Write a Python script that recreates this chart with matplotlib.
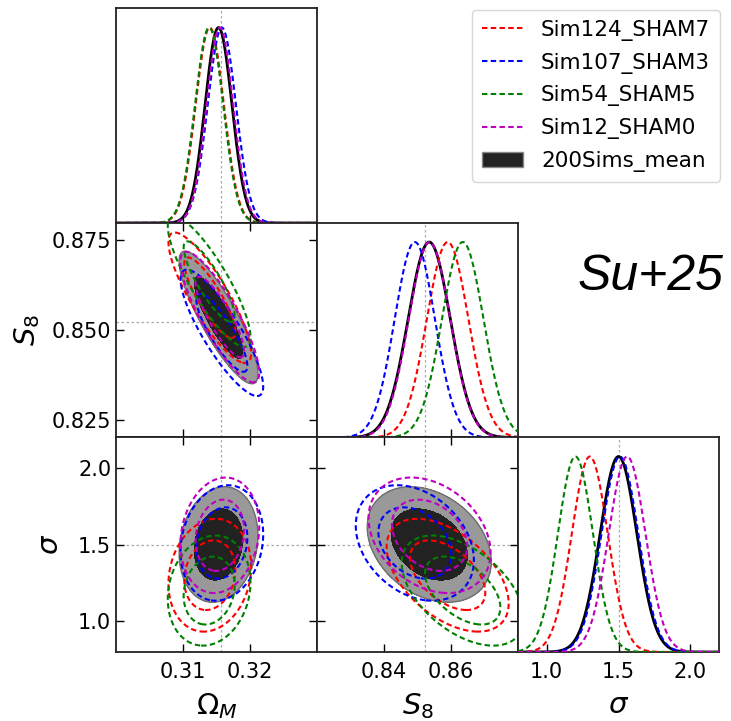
import numpy as np
import matplotlib
matplotlib.use("Agg")
import matplotlib.pyplot as plt
from matplotlib.lines import Line2D
from matplotlib.patches import Patch

# ---------------- data ----------------
param_labels = [r"$\Omega_M$", r"$S_8$", r"$\sigma$"]
param_ranges = [(0.30, 0.33), (0.82, 0.88), (0.80, 2.20)]
x_ticks = [[0.31, 0.32], [0.84, 0.86], [1.0, 1.5, 2.0]]
x_ticklabels = [["0.31", "0.32"], ["0.84", "0.86"], ["1.0", "1.5", "2.0"]]
y_ticks = [None, [0.825, 0.850, 0.875], [1.0, 1.5, 2.0]]
y_ticklabels = [None, ["0.825", "0.850", "0.875"], ["1.0", "1.5", "2.0"]]
truth = [0.3156, 0.8523, 1.5]

series_names = ["Sim124_SHAM7", "Sim107_SHAM3", "Sim54_SHAM5", "Sim12_SHAM0", "200Sims_mean"]
series_colors = ["red", "blue", "green", "m", "black"]

mean_omega = [0.3140, 0.3158, 0.3139, 0.3155, 0.3153]
mean_s8 = [0.8590, 0.8492, 0.8635, 0.8536, 0.8535]
mean_sigma = [1.30, 1.51, 1.20, 1.56, 1.50]
std_omega = [0.0021, 0.0021, 0.0021, 0.0020, 0.0020]
std_s8 = [0.0062, 0.0060, 0.0062, 0.0062, 0.0063]
std_sigma = [0.125, 0.128, 0.122, 0.128, 0.128]
corr_omega_s8 = [-0.85, -0.85, -0.85, -0.85, -0.85]
corr_omega_sigma = [0.15, 0.15, 0.15, 0.15, 0.15]
corr_s8_sigma = [-0.50, -0.30, -0.50, -0.30, -0.30]

contour_smoothing = 1.2           # 2D contours are broader than the 1D marginals
contour_mass = [0.95, 0.68]

# ---------------- figure ----------------
W, H = 731, 721
fig = plt.figure(figsize=(W / 100, H / 100), dpi=100)

col_left = [116, 317, 518]
col_w = 201
row_top = [8, 222.5, 437]
row_h = 215

axes = {}
for i in range(3):
    for j in range(i + 1):
        l = col_left[j] / W
        b = 1 - (row_top[i] + row_h) / H
        axes[(i, j)] = fig.add_axes([l, b, col_w / W, row_h / H])

means = [mean_omega, mean_s8, mean_sigma]
stds = [std_omega, std_s8, std_sigma]
corr = {(0, 1): corr_omega_s8, (0, 2): corr_omega_sigma, (1, 2): corr_s8_sigma}

dash = (0, (2.6, 1.6))
truth_kw = dict(color="#aaaaaa", ls=(0, (2, 2)), lw=0.9, zorder=0.5)
order = [4, 0, 1, 2, 3]

for i in range(3):
    for j in range(i + 1):
        ax = axes[(i, j)]
        xr = param_ranges[j]
        if i == j:
            x = np.linspace(xr[0], xr[1], 600)
            for k in order:
                m, s = means[i][k], stds[i][k]
                p = np.exp(-0.5 * ((x - m) / s) ** 2)
                if k == 4:
                    ax.plot(x, p, color="black", lw=2.0, zorder=2)
                else:
                    ax.plot(x, p, color=series_colors[k], lw=1.5, ls=dash, zorder=3)
            ax.axvline(truth[i], **truth_kw)
            ax.set_ylim(0, 1.1)
            ax.set_yticks([])
        else:
            yr = param_ranges[i]
            gx = np.linspace(xr[0], xr[1], 400)
            gy = np.linspace(yr[0], yr[1], 400)
            X, Y = np.meshgrid(gx, gy)
            for k in order:
                mx, my = means[j][k], means[i][k]
                sx = stds[j][k] * contour_smoothing
                sy = stds[i][k] * contour_smoothing
                r = corr[(j, i)][k]
                dx = (X - mx) / sx
                dy = (Y - my) / sy
                d2 = (dx ** 2 - 2 * r * dx * dy + dy ** 2) / (1 - r ** 2)
                Z = np.exp(-0.5 * d2)
                lev = [1 - pm for pm in contour_mass]
                if k == 4:
                    ax.contourf(X, Y, Z, levels=[lev[0], lev[1], 2],
                                colors=["#999999", "#222222"], zorder=1)
                    ax.contour(X, Y, Z, levels=[lev[0]], colors=["#6f6f6f"],
                               linewidths=1.0, zorder=1.2)
                else:
                    ax.contour(X, Y, Z, levels=lev, colors=[series_colors[k]],
                               linewidths=1.5, linestyles=[dash], zorder=3)
            ax.axvline(truth[j], **truth_kw)
            ax.axhline(truth[i], **truth_kw)
            ax.set_ylim(*yr)
            ax.set_yticks(y_ticks[i])
            if j == 0:
                ax.set_yticklabels(y_ticklabels[i])
                ax.set_ylabel(param_labels[i], fontsize=21)
            else:
                ax.set_yticklabels([])
        ax.set_xlim(*xr)
        ax.set_xticks(x_ticks[j])
        if i == 2:
            ax.set_xticklabels(x_ticklabels[j])
            ax.set_xlabel(param_labels[j], fontsize=21, labelpad=7)
        else:
            ax.set_xticklabels([])
        if i == j:
            ax.tick_params(axis="x", direction="in", length=6, width=1, top=False,
                           labelsize=15, pad=7)
        else:
            ax.tick_params(direction="in", length=6, width=1, top=True, right=True,
                           labelsize=15)
            ax.tick_params(axis="x", pad=7)
        for sp in ax.spines.values():
            sp.set_linewidth(1.3)
            sp.set_color("#222222")

axes[(1, 0)].yaxis.set_label_coords(-0.37, 0.5)
axes[(2, 0)].yaxis.set_label_coords(-0.26, 0.5)

handles = []
for k in range(4):
    handles.append(Line2D([0], [0], color=series_colors[k], lw=1.5, ls=dash))
handles.append(Patch(facecolor="#222222", edgecolor="#888888"))
fig.legend(handles, series_names, loc="upper right",
           bbox_to_anchor=(720 / W, 1 - 10 / H), borderaxespad=0, fontsize=15.5,
           handlelength=1.9, labelspacing=0.55, borderpad=0.45, handletextpad=0.85)

fig.text(651 / W, 1 - 277 / H, "Su+25", fontsize=36, style="italic",
         family="Liberation Sans", ha="center", va="center")

fig.savefig("out.png", dpi=100)
